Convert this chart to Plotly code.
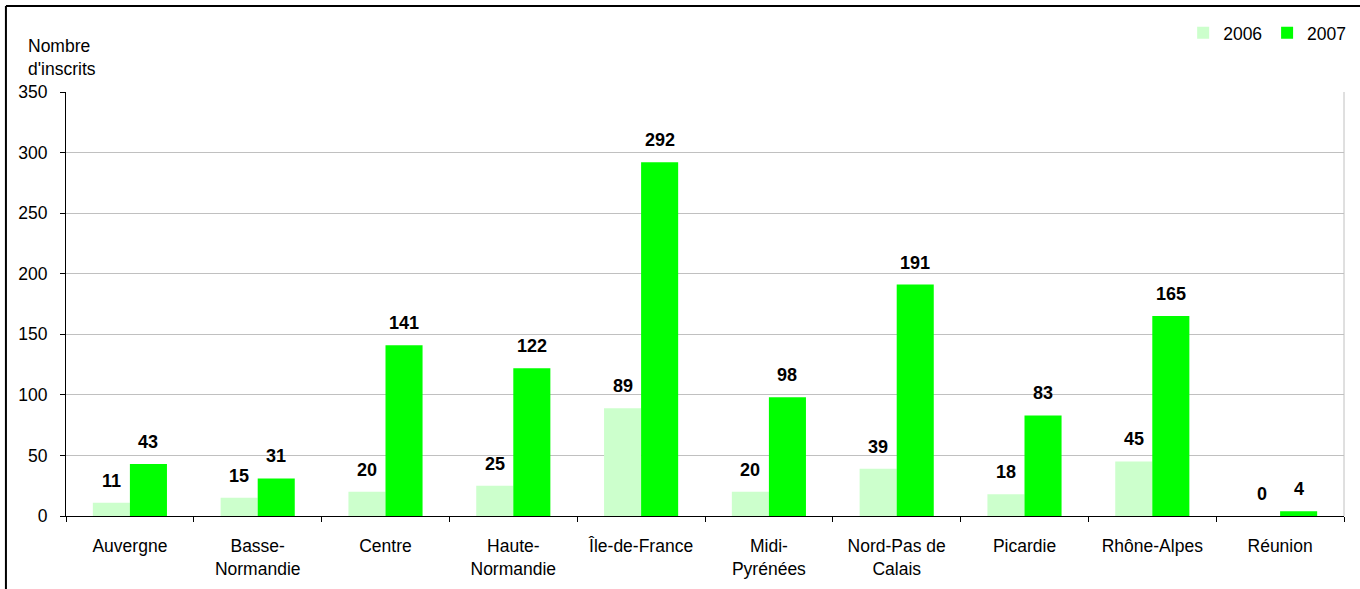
import plotly.graph_objects as go

categories = ["Auvergne", "Basse-<br>Normandie", "Centre", "Haute-<br>Normandie", "Île-de-France",
              "Midi-<br>Pyrénées", "Nord-Pas de<br>Calais", "Picardie", "Rhône-Alpes", "Réunion"]
values_2006 = [11, 15, 20, 25, 89, 20, 39, 18, 45, 0]
values_2007 = [43, 31, 141, 122, 292, 98, 191, 83, 165, 4]
series_names = ["2006", "2007"]
colors = ["#CCFFCC", "#00FF00"]

FONT = "Liberation Sans, Arial, sans-serif"
FS = 17.5
BARGAP = 0.42

fig = go.Figure()
for name, vals, col in zip(series_names, [values_2006, values_2007], colors):
    fig.add_trace(go.Bar(name=name, x=categories, y=vals, marker=dict(color=col, line=dict(width=0))))

# value labels
bw = (1 - BARGAP) / 2
annotations = []
for k, vals in enumerate([values_2006, values_2007]):
    off = (k - 0.5) * bw
    for i, v in enumerate(vals):
        annotations.append(dict(x=i + off, y=v, xref="x", yref="y", text="<b>%d</b>" % v,
                                showarrow=False, yanchor="bottom", yshift=10,
                                font=dict(family=FONT, size=18, color="black")))
annotations.append(dict(x=-0.0313, y=1.0825, xref="paper", yref="paper", xanchor="left",
                        yanchor="middle", align="left", showarrow=False,
                        text="Nombre<br>d'inscrits", font=dict(family=FONT, size=FS, color="black")))

shapes = [
    dict(type="line", xref="paper", yref="paper", x0=1, x1=1, y0=0, y1=1,
         line=dict(color="#c0c0c0", width=1)),
    dict(type="line", xref="paper", yref="paper", x0=-0.047, x1=1.02, y0=1.2028, y1=1.2028,
         line=dict(color="black", width=2)),
    dict(type="line", xref="paper", yref="paper", x0=-0.047, x1=-0.047, y0=-0.2, y1=1.2028,
         line=dict(color="black", width=2)),
]

fig.update_layout(
    width=1360, height=589,
    margin=dict(l=66, r=16, t=92, b=73, autoexpand=False),
    paper_bgcolor="white", plot_bgcolor="white",
    barmode="group", bargap=BARGAP, bargroupgap=0,
    font=dict(family=FONT, size=FS, color="black"),
    legend=dict(orientation="h", xref="container", yref="container",
                x=0.9935, xanchor="right", y=0.944, yanchor="middle",
                font=dict(family=FONT, size=FS), itemwidth=30, tracegroupgap=0,
                bgcolor="rgba(0,0,0,0)"),
    annotations=annotations,
    shapes=shapes,
)
fig.update_xaxes(type="category", tickson="boundaries", ticks="outside", ticklen=5,
                 tickcolor="black", showline=True, linecolor="black", linewidth=1,
                 showgrid=False, tickfont=dict(family=FONT, size=FS), ticklabelstandoff=14)
fig.update_yaxes(range=[0, 350], dtick=50, ticks="outside", ticklen=5, tickcolor="black",
                 showline=True, linecolor="black", linewidth=1, showgrid=True,
                 gridcolor="#c0c0c0", zeroline=False, tickfont=dict(family=FONT, size=FS),
                 ticklabelstandoff=9)

fig.write_html("out.html", config={"displayModeBar": False},
               post_script="document.body.style.margin='0px';")
